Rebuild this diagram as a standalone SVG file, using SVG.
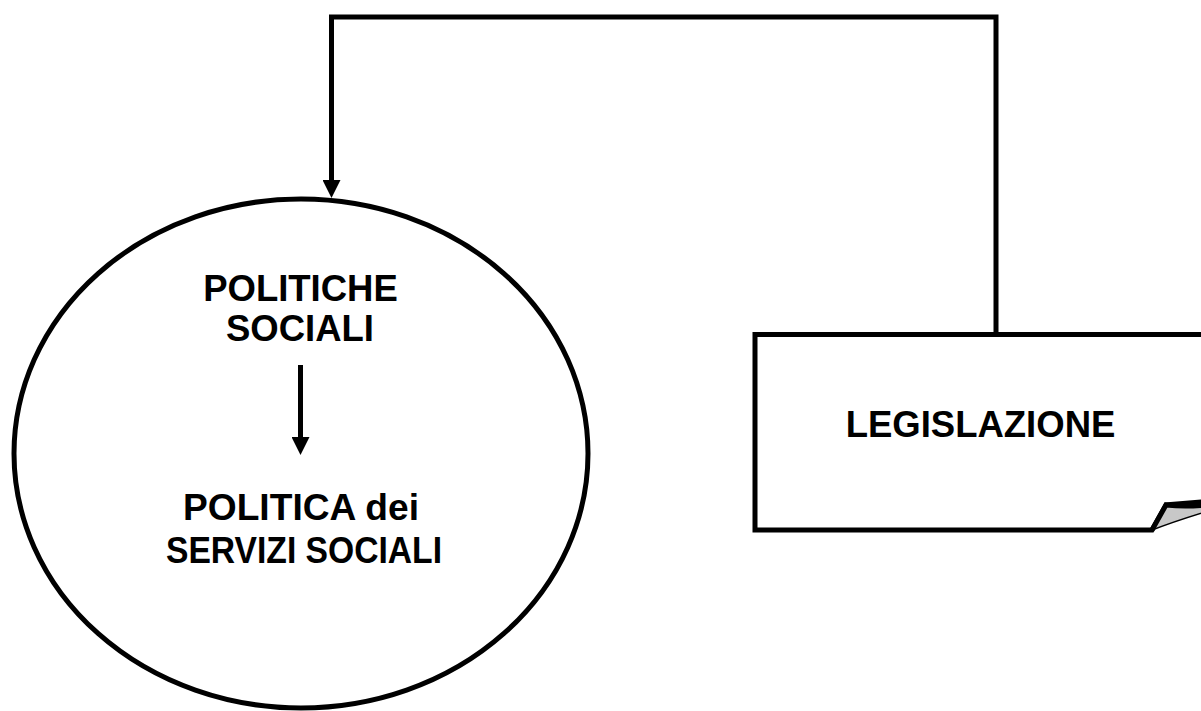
<svg xmlns="http://www.w3.org/2000/svg" width="1201" height="711" viewBox="0 0 1201 711">
  <style>
    .lbl { font-family: "Liberation Sans", Arial, sans-serif; font-weight: bold; font-size: 36.5px; fill: #000; text-anchor: middle; }
    .edge { fill: none; stroke: #000; stroke-width: 5; }
    .shape { fill: #fff; stroke: #000; stroke-width: 5; }
  </style>
  <defs>
    <marker id="arr" markerUnits="userSpaceOnUse" markerWidth="18" markerHeight="18" refX="2" refY="9" orient="auto" viewBox="0 0 18 18">
      <path d="M0,0 L18,9 L0,18 Z" fill="#000"/>
    </marker>
  </defs>
  <rect width="1201" height="711" fill="#fff"/>

  <g id="node-legislazione">
    <path class="shape" d="M755,334.5 H1225 V500 L1166,505 L1152,530 H755 Z"/>
    <path d="M1152,530 Q1180,519 1225,506 L1225,503 Q1195,508 1166,505 Z" fill="#c8c8c8" stroke="#000" stroke-width="1.5"/>
    <path d="M1152,530 L1166,505 Q1195,508 1225,502" fill="none" stroke="#000" stroke-width="5" stroke-linejoin="miter"/>
    <text class="lbl" x="980.5" y="437">LEGISLAZIONE</text>
  </g>

  <g id="node-politiche">
    <ellipse class="shape" cx="301" cy="453.5" rx="287" ry="254.5"/>
    <text class="lbl" x="300.5" y="301">POLITICHE</text>
    <text class="lbl" x="300" y="341">SOCIALI</text>
    <text class="lbl" x="301" y="520" textLength="236" lengthAdjust="spacingAndGlyphs">POLITICA dei</text>
    <text class="lbl" x="304" y="563" textLength="276" lengthAdjust="spacingAndGlyphs">SERVIZI SOCIALI</text>
  </g>

  <g id="connectors">
    <path class="edge" d="M996,334.5 V17 H331.5 V182" marker-end="url(#arr)"/>
    <path class="edge" d="M300.5,365 V439" marker-end="url(#arr)"/>
  </g>
</svg>
